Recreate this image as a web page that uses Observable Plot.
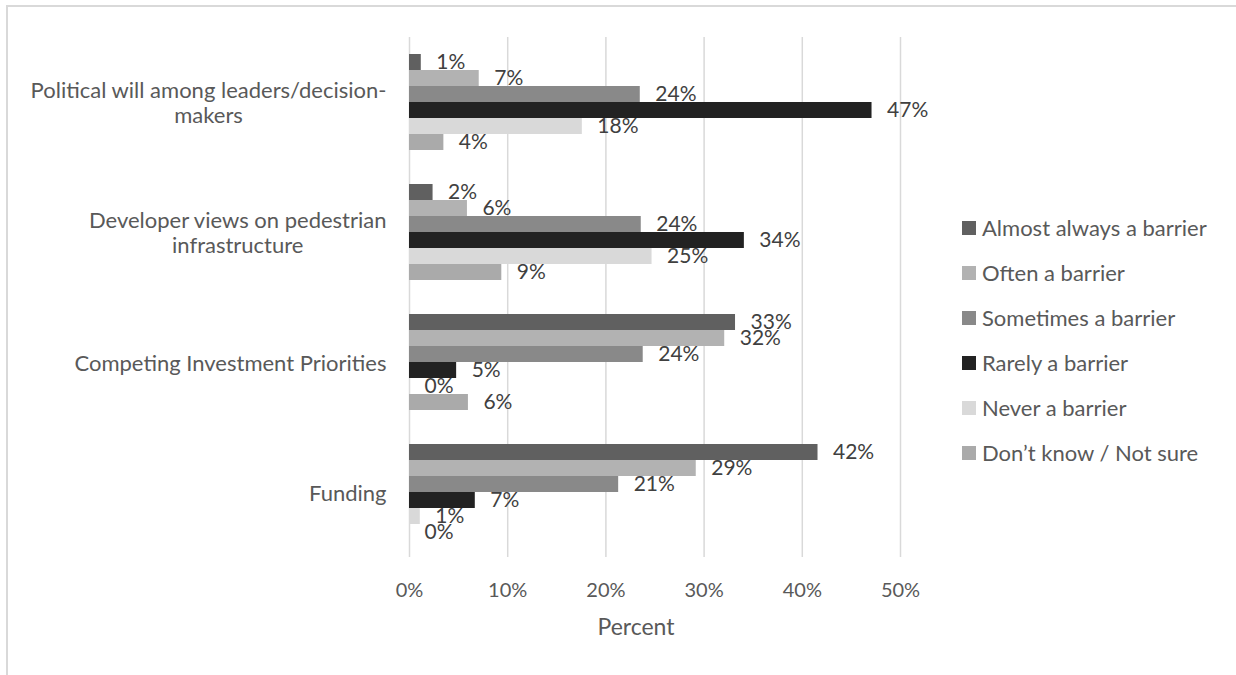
<!DOCTYPE html>
<html>
<head>
<meta charset="utf-8">
<script src="https://cdn.jsdelivr.net/npm/d3@7"></script>
<script src="https://cdn.jsdelivr.net/npm/@observablehq/plot@0.6"></script>
<style>
  html, body { margin: 0; padding: 0; background: #fff; overflow: hidden; }
  #wrap { position: relative; width: 1236px; height: 675px; overflow: hidden; font-family: Lato, "Open Sans", sans-serif; }
  #box { position: absolute; left: 6px; top: 5px; width: 1300px; height: 760px; border: 2px solid #d9d9d9; box-sizing: border-box; }
  #chart { position: absolute; left: 0; top: 0; }
  #legend { position: absolute; left: 962px; top: 205px; color: #595959; font-size: 22px; }
  .row { display: flex; align-items: center; height: 45px; }
  .sw { width: 14px; height: 14px; margin-right: 6px; }
</style>
</head>
<body>
<div id="wrap">
  <div id="box"></div>
  <div id="chart"></div>
  <div id="legend"></div>
</div>
<script>
// Barriers to pedestrian investment, share of respondents (%)
const categories = [
  "Political will among leaders/decision-makers",
  "Developer views on pedestrian infrastructure",
  "Competing Investment Priorities",
  "Funding"
];
const categoryLabels = [
  "Political will among leaders/decision-\nmakers",
  "Developer views on pedestrian\ninfrastructure",
  "Competing Investment Priorities",
  "Funding"
];
const series = [
  "Almost always a barrier",
  "Often a barrier",
  "Sometimes a barrier",
  "Rarely a barrier",
  "Never a barrier",
  "Don\u2019t know / Not sure"
];
// one array per response, in category order
const almostAlways = [1.2, 2.4, 33.2, 41.6];
const often        = [7.1, 5.9, 32.1, 29.2];
const sometimes    = [23.5, 23.6, 23.8, 21.3];
const rarely       = [47.1, 34.1, 4.8, 6.7];
const never        = [17.6, 24.7, 0, 1.1];
const dontKnow     = [3.5, 9.4, 6.0, 0];
const xTicks = [0, 10, 20, 30, 40, 50];

const colors = ["#606060", "#b2b2b2", "#898989", "#222222", "#d9d9d9", "#aaaaaa"];

const seriesValues = [almostAlways, often, sometimes, rarely, never, dontKnow];
const data = [];
categories.forEach((c, i) => {
  series.forEach((s, j) => {
    data.push({category: c, series: s, value: seriesValues[j][i]});
  });
});
const labelOf = new Map(categories.map((c, i) => [c, categoryLabels[i]]));

const W = 940;
const chart = Plot.plot({
  width: W,
  height: 660,
  marginTop: 35,
  marginBottom: 102,
  marginLeft: 409,
  marginRight: W - 900,
  style: {fontFamily: "Lato, 'Open Sans', sans-serif", color: "#595959", background: "transparent"},
  x: {domain: [0, 50]},
  y: {domain: series, paddingInner: 0, paddingOuter: 0.9225, axis: null},
  fy: {domain: categories, padding: 0},
  color: {domain: series, range: colors},
  marks: [
    Plot.gridX(xTicks, {stroke: "#d9d9d9", strokeOpacity: 1, strokeWidth: 1.5}),
    Plot.barX(data, {fy: "category", y: "series", x: "value", fill: "series"}),
    Plot.text(data, {
      fy: "category", y: "series", x: "value",
      text: d => Math.round(d.value) + "%",
      textAnchor: "start", dx: 15, fontSize: 21, fill: "#404040"
    }),
    Plot.axisX({ticks: xTicks, tickFormat: d => d + "%", tickSize: 0, tickPadding: 25, fontSize: 20, label: null}),
    Plot.axisFy({anchor: "left", tickSize: 0, tickPadding: 23, fontSize: 22, lineHeight: 1.14,
      tickFormat: d => labelOf.get(d), label: null}),
    Plot.text([categories[categories.length - 1]], {
      fy: d => d, frameAnchor: "bottom", text: () => "Percent",
      dx: -19, dy: 77, fontSize: 23, fill: "#595959"
    })
  ]
});
document.getElementById("chart").appendChild(chart);

// center the lines of wrapped category labels within their block
chart.querySelectorAll('[aria-label="fy-axis tick label"] text').forEach(t => {
  const spans = t.querySelectorAll("tspan");
  if (spans.length > 1) {
    const w = t.getBBox().width;
    t.setAttribute("text-anchor", "middle");
    spans.forEach(s => s.setAttribute("x", -w / 2));
  }
});

// legend
const legend = document.getElementById("legend");
series.forEach((s, i) => {
  const row = document.createElement("div");
  row.className = "row";
  const sw = document.createElement("div");
  sw.className = "sw";
  sw.style.background = colors[i];
  const lab = document.createElement("span");
  lab.textContent = s;
  row.appendChild(sw);
  row.appendChild(lab);
  legend.appendChild(row);
});
</script>
</body>
</html>
